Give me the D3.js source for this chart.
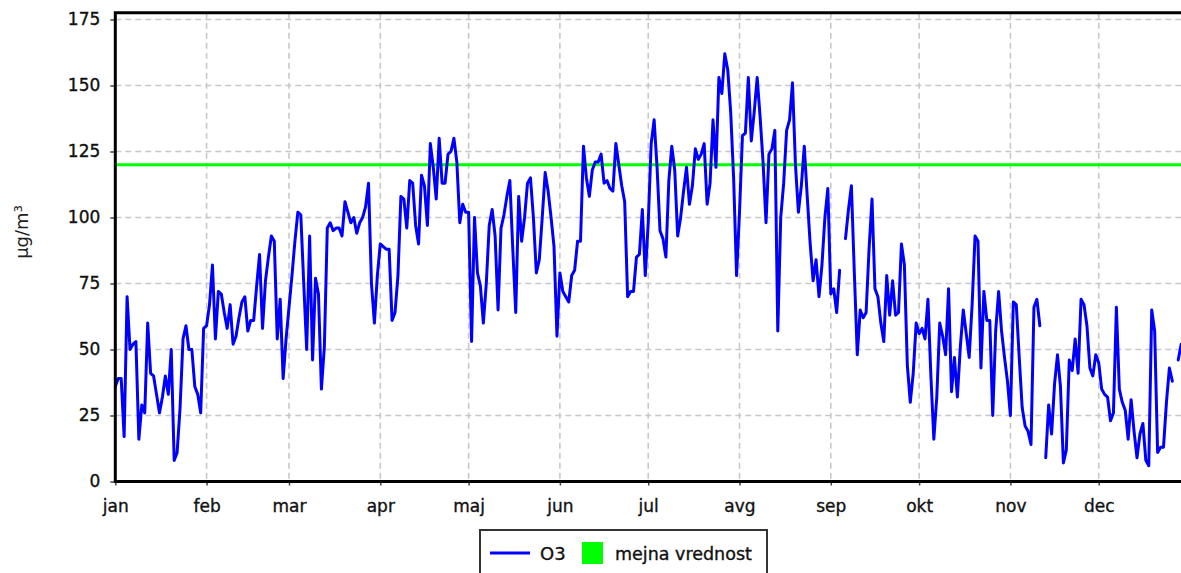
<!DOCTYPE html>
<html>
<head>
<meta charset="utf-8">
<script src="https://cdn.jsdelivr.net/npm/d3@7/dist/d3.min.js"></script>
<style>
  body { margin: 0; background: #fff; }
  svg { display: block; font-family: "DejaVu Sans", Verdana, sans-serif; }
  text { stroke: #111; stroke-width: 0.35px; }
</style>
</head>
<body>
<div id="chart"></div>
<script>
// daily O3 (µg/m3), one array per month, null = missing day
const o3Jan = [36, 39, 39, 17, 70, 50, 52, 53, 16, 29, 26, 60, 41, 40, 33, 26, 32, 40, 33, 50, 8, 11, 28, 54, 59, 50, 50, 36, 33, 26, 58];
const o3Feb = [59, 67, 82, 54, 72, 71, 64, 58, 67, 52, 55, 62, 68, 70, 57, 61, 61, 74, 86, 58, 76, 85, 93, 91, 54, 69, 39, 54];
const o3Mar = [66, 78, 91, 102, 101, 75, 50, 93, 46, 77, 71, 35, 51, 96, 98, 95, 96, 96, 93, 106, 102, 98, 100, 94, 98, 100, 104, 113, 75, 60, 78];
const o3Apr = [90, 89, 88, 88, 61, 64, 78, 108, 107, 96, 114, 113, 97, 90, 116, 112, 97, 128, 119, 107, 130, 113, 113, 124, 125, 130, 121, 98, 105, 102];
const o3May = [102, 53, 100, 79, 74, 60, 75, 97, 103, 93, 65, 96, 101, 108, 114, 88, 64, 108, 91, 100, 113, 115, 100, 79, 84, 100, 117, 110, 100, 89, 55];
const o3Jun = [79, 72, 70, 68, 78, 80, 91, 91, 127, 115, 108, 118, 121, 121, 124, 113, 114, 111, 110, 128, 120, 112, 106, 70, 72, 72, 85, 86, 103, 78];
const o3Jul = [98, 128, 137, 119, 95, 92, 85, 114, 127, 118, 93, 100, 110, 119, 105, 112, 126, 122, 124, 128, 105, 113, 137, 119, 153, 147, 162, 156, 140, 115, 78];
const o3Aug = [102, 131, 132, 153, 129, 140, 153, 138, 121, 98, 124, 126, 133, 57, 100, 113, 133, 137, 151, 120, 102, 112, 127, 108, 90, 76, 84, 70, 82, 100, 111];
const o3Sep = [71, 73, 64, 80, null, 92, 103, 112, 79, 48, 65, 62, 64, 88, 107, 73, 70, 60, 53, 78, 63, 76, 63, 64, 90, 82, 44, 30, 41, 60];
const o3Oct = [56, 58, 54, 69, 40, 16, 32, 60, 55, 48, 73, 34, 47, 32, 51, 65, 56, 47, 67, 93, 91, 43, 72, 61, 61, 25, 57, 72, 57, 47, 38];
const o3Nov = [25, 68, 67, 47, 28, 21, 19, 14, 66, 69, 59, null, 9, 29, 18, 37, 48, 36, 7, 12, 46, 42, 54, 41, 69, 67, 59, 43, 40, 48];
const o3Dec = [45, 35, 33, 32, 23, 26, 66, 35, 30, 27, 16, 31, 19, 9, 18, 22, 8, 6, 65, 57, 11, 13, 13, 30, 43, 38, null, 46, 52];

const monthLabels = ["jan", "feb", "mar", "apr", "maj", "jun", "jul", "avg", "sep", "okt", "nov", "dec"];
const yTicks = [0, 25, 50, 75, 100, 125, 150, 175];
const limitValue = 120;
const seriesName = "O3";
const limitName = "mejna vrednost";
const yTitle = "µg/m³";
const year = 2021;

const svgWidth = 1181, svgHeight = 573;
let margin = {top: 12.7, left: 115.3},
    plotBottom = 481.5,
    plotRight = 1190;

let months = [o3Jan, o3Feb, o3Mar, o3Apr, o3May, o3Jun, o3Jul, o3Aug, o3Sep, o3Oct, o3Nov, o3Dec];
let data = [];
months.forEach(function(arr, m) {
  arr.forEach(function(v, i) {
    data.push({date: new Date(Date.UTC(year, m, i + 1)), value: v});
  });
});

let svg = d3.select("#chart").append("svg")
    .attr("width", svgWidth)
    .attr("height", svgHeight);

let x = d3.scaleUtc()
    .domain([new Date(Date.UTC(year, 0, 1)), new Date(Date.UTC(year + 1, 0, 1))])
    .range([margin.left, plotRight]);
let y = d3.scaleLinear()
    .domain([0, 175])
    .range([plotBottom, 19.5]);

let monthStarts = d3.range(12).map(function(m) { return new Date(Date.UTC(year, m, 1)); });

// grid
svg.append("g")
    .attr("class", "grid")
  .selectAll("line.h")
  .data(yTicks.filter(function(d) { return d > 0; }))
  .enter().append("line")
    .attr("x1", margin.left).attr("x2", svgWidth)
    .attr("y1", function(d) { return y(d); })
    .attr("y2", function(d) { return y(d); });
svg.select("g.grid")
  .selectAll("line.v")
  .data(monthStarts.slice(1))
  .enter().append("line")
    .attr("x1", function(d) { return x(d); })
    .attr("x2", function(d) { return x(d); })
    .attr("y1", margin.top).attr("y2", plotBottom);
svg.selectAll("g.grid line")
    .attr("stroke", "#c8c8c8")
    .attr("stroke-width", 1.6)
    .attr("stroke-dasharray", "6,4");

// limit line
svg.append("line")
    .attr("x1", margin.left).attr("x2", svgWidth)
    .attr("y1", y(limitValue)).attr("y2", y(limitValue))
    .attr("stroke", "#00ff00")
    .attr("stroke-width", 3);

// O3 series
let line = d3.line()
    .defined(function(d) { return d.value != null; })
    .x(function(d) { return x(d.date); })
    .y(function(d) { return y(d.value); });

svg.append("clipPath").attr("id", "plotclip")
  .append("rect")
    .attr("x", margin.left).attr("y", margin.top)
    .attr("width", plotRight - margin.left).attr("height", plotBottom - margin.top);

svg.append("path")
    .datum(data)
    .attr("clip-path", "url(#plotclip)")
    .attr("fill", "none")
    .attr("stroke", "#0000ff")
    .attr("stroke-width", 3)
    .attr("stroke-linejoin", "round")
    .attr("stroke-linecap", "round")
    .attr("d", line);

// axes
let yAxis = svg.append("g")
    .attr("transform", "translate(" + margin.left + ",0)")
    .call(d3.axisLeft(y).tickValues(yTicks).tickSize(5).tickPadding(10).tickSizeOuter(0));
let xAxis = svg.append("g")
    .attr("transform", "translate(0," + plotBottom + ")")
    .call(d3.axisBottom(x).tickValues(monthStarts)
      .tickFormat(function(d, i) { return monthLabels[i]; })
      .tickSize(4).tickPadding(14).tickSizeOuter(0));
[yAxis, xAxis].forEach(function(g) {
  g.select(".domain").remove();
  g.selectAll(".tick line").attr("stroke", "#444").attr("stroke-width", 1.5);
  g.selectAll(".tick text")
    .attr("fill", "#111")
    .style("font-size", "17px")
    .style("font-family", "'DejaVu Sans', Verdana, sans-serif");
});

// frame: left, bottom and top
svg.append("path")
    .attr("d", "M" + svgWidth + "," + margin.top + "H" + margin.left + "V" + plotBottom + "H" + svgWidth)
    .attr("fill", "none")
    .attr("stroke", "#000")
    .attr("stroke-width", 3);

// y title
svg.append("text")
    .attr("transform", "translate(28,232) rotate(-90)")
    .attr("text-anchor", "middle")
    .attr("fill", "#222")
    .style("stroke", "none")
    .style("font-size", "18px")
    .text(yTitle);

// legend
let legend = svg.append("g").attr("transform", "translate(480,530)");
legend.append("rect")
    .attr("width", 287).attr("height", 60)
    .attr("fill", "#fff")
    .attr("stroke", "#333")
    .attr("stroke-width", 2);
legend.append("line")
    .attr("x1", 10).attr("x2", 50)
    .attr("y1", 23).attr("y2", 23)
    .attr("stroke", "#0000ff").attr("stroke-width", 3);
legend.append("text")
    .attr("x", 60).attr("y", 30)
    .attr("fill", "#111")
    .style("font-size", "18px")
    .text(seriesName);
legend.append("rect")
    .attr("x", 102).attr("y", 12)
    .attr("width", 21).attr("height", 22)
    .attr("fill", "#00ff00");
legend.append("text")
    .attr("x", 135).attr("y", 30)
    .attr("fill", "#111")
    .style("font-size", "17.5px")
    .text(limitName);
</script>
</body>
</html>
